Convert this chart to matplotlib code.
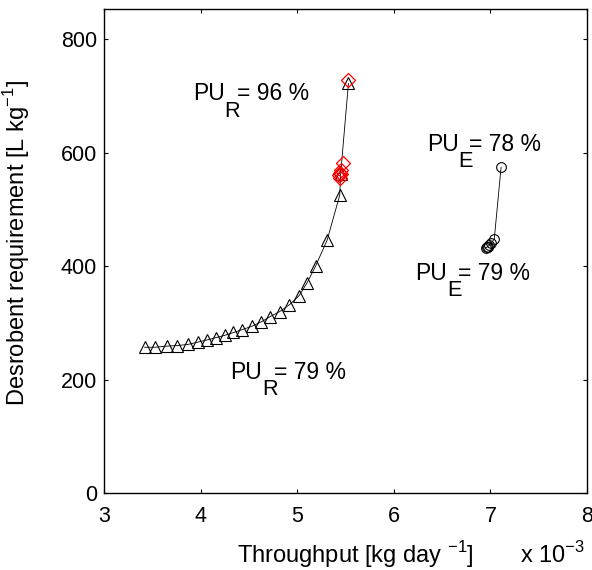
import numpy as np
import matplotlib.pyplot as plt

plt.rcParams['font.family'] = ['Liberation Sans', 'DejaVu Sans']

# throughput in units of 1e-3 kg/day, desorbent requirement in L/kg
tri_x = [3.42, 3.53, 3.65, 3.76, 3.87, 3.97, 4.07, 4.16, 4.25, 4.34, 4.43,
         4.53, 4.63, 4.72, 4.82, 4.92, 5.02, 5.10, 5.19, 5.31, 5.44, 5.45, 5.53]
tri_y = [257, 257, 259, 260, 262, 266, 270, 274, 278, 283, 288,
         294, 302, 311, 320, 332, 348, 370, 400, 446, 525, 563, 722]

dia_x = [5.53, 5.47, 5.45, 5.44, 5.43, 5.44, 5.45]
dia_y = [728, 581, 570, 565, 560, 556, 562]

circ_x = [7.11, 7.04, 7.01, 6.99, 6.97, 6.96, 6.95]
circ_y = [574, 448, 441, 437, 434, 433, 432]

# (x, y, main, subscript, rest)
labels = [(3.92, 692, 'PU', 'R', '= 96 %'),
          (4.31, 201, 'PU', 'R', '= 79 %'),
          (6.34, 603, 'PU', 'E', '= 78 %'),
          (6.22, 376, 'PU', 'E', '= 79 %')]

fig = plt.figure(figsize=(5.92, 5.70), dpi=100)
ax = fig.add_axes([0.1757, 0.135, 0.8159, 0.849])

ax.plot(tri_x, tri_y, color='k', lw=0.6, marker='^', ms=9,
        mfc='none', mec='k', mew=0.8)
ax.plot(dia_x, dia_y, ls='none', marker='D', ms=7,
        mfc='none', mec='red', mew=0.9)
ax.plot(circ_x, circ_y, color='k', lw=0.6, marker='o', ms=7,
        mfc='none', mec='k', mew=0.8)

# MATLAB-style subscripts: nearly full size, dropped below the baseline
fs = 16.5
for x, y, main, sub, rest in labels:
    t1 = ax.text(x, y, main, fontsize=fs, va='baseline', ha='left')
    t2 = ax.annotate(sub, xy=(1, 0), xycoords=t1, xytext=(0, -8),
                     textcoords='offset points', fontsize=fs * 0.95,
                     va='baseline', ha='left')
    ax.annotate(rest, xy=(1, 0), xycoords=(t2, t1), xytext=(-2.5, 0),
                textcoords='offset points', fontsize=fs,
                va='bottom', ha='left')

ax.set_xlim(3, 8)
ax.set_ylim(0, 853)
ax.set_xticks([3, 4, 5, 6, 7, 8])
ax.set_yticks([0, 200, 400, 600, 800])
ax.tick_params(direction='in', length=3, width=0.8, labelsize=15.5,
               top=True, right=True)
ax.tick_params(axis='x', pad=9)
ax.tick_params(axis='y', pad=5)
for sp in ax.spines.values():
    sp.set_linewidth(1.0)

ax.set_xlabel(r'Throughput [kg day $^\mathregular{-1}$]', fontsize=17)
ax.xaxis.set_label_coords(0.52, -0.095)
ax.set_ylabel(r'Desrobent requirement [L kg$^\mathregular{-1}$]', fontsize=17)
ax.yaxis.set_label_coords(-0.15, 0.517)
fig.text(0.878, 0.012, r'x 10$^\mathregular{-3}$', fontsize=17,
         va='baseline')

fig.savefig('out.png', dpi=100)
